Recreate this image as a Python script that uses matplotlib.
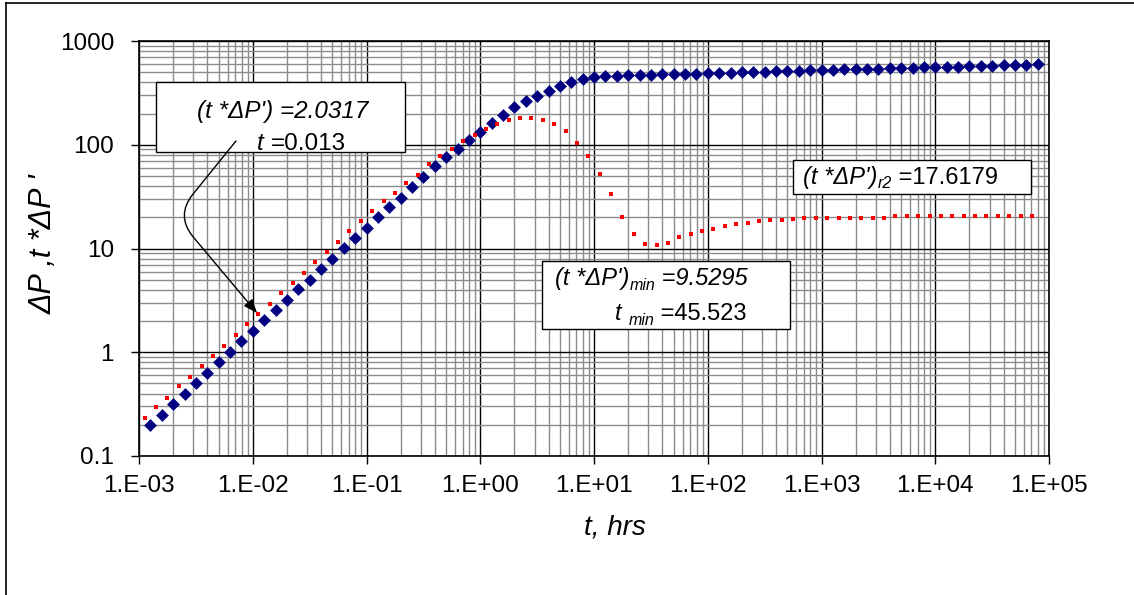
import matplotlib
matplotlib.use('Agg')
import matplotlib.pyplot as plt
from matplotlib.lines import Line2D
from matplotlib.patches import Rectangle, FancyArrowPatch
from matplotlib.ticker import FixedLocator, FixedFormatter, LogLocator, NullFormatter

W, H = 1134, 595

# pressure change (log10 of time in hrs -> value)
log_t_dp = [-2.9, -2.8, -2.7, -2.6, -2.5, -2.4, -2.3, -2.2, -2.1, -2.0,
            -1.9, -1.8, -1.7, -1.6, -1.5, -1.4, -1.3, -1.2, -1.1, -1.0,
            -0.9, -0.8, -0.7, -0.6, -0.5, -0.4, -0.3, -0.2, -0.1, 0.0,
            0.1, 0.2, 0.3, 0.4, 0.5, 0.6, 0.7, 0.8, 0.9, 1.0,
            1.1, 1.2, 1.3, 1.4, 1.5, 1.6, 1.7, 1.8, 1.9, 2.0,
            2.1, 2.2, 2.3, 2.4, 2.5, 2.6, 2.7, 2.8, 2.9, 3.0,
            3.1, 3.2, 3.3, 3.4, 3.5, 3.6, 3.7, 3.8, 3.9, 4.0,
            4.1, 4.2, 4.3, 4.4, 4.5, 4.6, 4.7, 4.8, 4.9]
dp = [0.20, 0.25, 0.32, 0.40, 0.50, 0.63, 0.80, 1.00, 1.28, 1.60,
      2.03, 2.55, 3.2, 4.05, 5.0, 6.4, 8.0, 10.1, 12.6, 15.8,
      20, 25, 31, 39, 48.5, 62, 76, 92, 112, 134,
      162, 193, 229, 265, 298, 333, 369, 407, 428, 454,
      461, 463, 466, 469, 472, 476, 479, 483, 486, 490,
      493, 497, 500, 504, 507, 511, 514, 518, 521, 525,
      528, 532, 535, 539, 542, 546, 549, 553, 556, 560,
      563, 567, 570, 574, 578, 582, 586, 590, 594]

# pressure derivative t*dP'
log_t_der = [-2.95, -2.85, -2.75, -2.65, -2.55, -2.45, -2.35, -2.25, -2.15, -2.05,
             -1.95, -1.85, -1.75, -1.65, -1.55, -1.45, -1.35, -1.25, -1.15, -1.05,
             -0.95, -0.85, -0.75, -0.65, -0.55, -0.45, -0.35, -0.25, -0.15, -0.05,
             0.05, 0.15, 0.25, 0.35, 0.45, 0.55, 0.65, 0.75, 0.85, 0.95,
             1.05, 1.15, 1.25, 1.35, 1.45, 1.55, 1.65, 1.75, 1.85, 1.95,
             2.05, 2.15, 2.25, 2.35, 2.45, 2.55, 2.65, 2.75, 2.85, 2.95,
             3.05, 3.15, 3.25, 3.35, 3.45, 3.55, 3.65, 3.75, 3.85, 3.95,
             4.05, 4.15, 4.25, 4.35, 4.45, 4.55, 4.65, 4.75, 4.85]
der = [0.23, 0.296, 0.366, 0.47, 0.58, 0.745, 0.92, 1.16, 1.48, 1.86,
       2.35, 2.94, 3.75, 4.6, 5.8, 7.45, 9.3, 11.6, 14.8, 18.3,
       22.8, 28.5, 34.5, 42.8, 51.5, 64.6, 77.2, 92, 109, 125,
       143, 158, 174, 182, 182, 174, 158, 135, 105, 78,
       52, 33.5, 20.3, 13.8, 11.1, 10.8, 11.4, 12.8, 13.8, 14.7,
       15.5, 16.3, 17.3, 17.8, 18.4, 18.8, 18.9, 19.2, 19.5, 19.8,
       19.8, 19.8, 19.8, 19.8, 19.8, 19.8, 20.4, 20.4, 20.4, 20.4,
       20.4, 20.4, 20.4, 20.4, 20.4, 20.4, 20.4, 20.4, 20.4]

x_ticks = [1e-3, 1e-2, 1e-1, 1e0, 1e1, 1e2, 1e3, 1e4, 1e5]
x_tick_labels = ['1.E-03', '1.E-02', '1.E-01', '1.E+00', '1.E+01',
                 '1.E+02', '1.E+03', '1.E+04', '1.E+05']
y_ticks = [0.1, 1, 10, 100, 1000]
y_tick_labels = ['0.1', '1', '10', '100', '1000']

plt.rcParams['font.family'] = ['Liberation Sans', 'DejaVu Sans']


def px(x, y):
    # picture pixels (origin top-left) -> figure fraction
    return x / W, 1 - y / H


fig = plt.figure(figsize=(W / 100, H / 100), dpi=100)
ax = fig.add_axes([139 / W, 1 - 456 / H, 910 / W, 415 / H])

t_dp = [10 ** v for v in log_t_dp]
t_der = [10 ** v for v in log_t_der]
ax.plot(t_dp, dp, ls='none', marker='D', ms=5.9, color='#000080',
        mec='#000080', mew=0.4, zorder=3, clip_on=False)
ax.plot(t_der, der, ls='none', marker='s', ms=2.5, mew=0, color='red',
        zorder=3)

ax.set_xscale('log')
ax.set_yscale('log')
ax.set_xlim(1e-3, 1e5)
ax.set_ylim(0.1, 1000)

ax.xaxis.set_major_locator(FixedLocator(x_ticks))
ax.xaxis.set_major_formatter(FixedFormatter(x_tick_labels))
ax.yaxis.set_major_locator(FixedLocator(y_ticks))
ax.yaxis.set_major_formatter(FixedFormatter(y_tick_labels))
for axis in (ax.xaxis, ax.yaxis):
    axis.set_minor_locator(LogLocator(base=10, subs=range(2, 10), numticks=60))
    axis.set_minor_formatter(NullFormatter())

ax.set_axisbelow(True)
ax.grid(True, which='minor', color='#8c8c8c', lw=1.0)
ax.grid(True, which='major', color='black', lw=1.0)
ax.tick_params(which='major', direction='out', length=6, width=1,
               labelsize=17.5, color='black')
ax.tick_params(axis='x', which='major', pad=8)
ax.tick_params(axis='y', which='major', pad=12)
ax.tick_params(which='minor', length=0)
for sp in ax.spines.values():
    sp.set_linewidth(1.2)
    sp.set_color('black')

ax.set_xlabel('t, hrs', fontsize=20, style='italic')
ax.xaxis.set_label_coords(0.523, -0.14)
ax.set_ylabel("ΔP ,t *ΔP '", fontsize=22, style='italic')
ax.yaxis.set_label_coords(-0.088, 0.51)


def box(x0, y0, x1, y1):
    l, b = px(x0, y1)
    ax.add_patch(Rectangle((l, b), (x1 - x0) / W, (y1 - y0) / H,
                           transform=fig.transFigure, fc='white', ec='black',
                           lw=1.0, zorder=5, clip_on=False))


def write(pieces, x, y):
    prev = None
    for text, size, style, dy in pieces:
        if prev is None:
            fx, fy = px(x, y + dy)
            prev = ax.text(fx, fy, text, transform=fig.transFigure,
                           fontsize=size, style=style, ha='left',
                           va='baseline', zorder=6)
        else:
            prev = ax.annotate(text, xy=(1, 1 - (y + dy) / H),
                               xycoords=(prev, 'figure fraction'),
                               fontsize=size, style=style, ha='left',
                               va='baseline', zorder=6, annotation_clip=False)
    return prev


# annotation at t = 0.013
box(156, 82, 405, 152)
write([("(t *ΔP') =2.0317", 17.5, 'italic', 0)], 197, 118)
write([("t ", 17.5, 'italic', 0), ("=0.013", 17.5, 'normal', 0)], 257, 150)
arrow = FancyArrowPatch(px(236, 141), px(257, 313), transform=fig.transFigure,
                        connectionstyle='angle,angleA=51,angleB=-50,rad=28',
                        arrowstyle='-|>,head_length=0.55,head_width=0.22',
                        mutation_scale=15, color='black', lw=1.0,
                        shrinkA=0, shrinkB=0, zorder=6)
fig.add_artist(arrow)

# radial flow derivative
box(793, 160, 1031, 194)
write([("(t *ΔP')", 17, 'italic', 0), ("r2", 11.5, 'italic', 4),
       (" =17.6179", 17, 'normal', 0)], 803, 184)

# minimum derivative
box(542, 261, 790, 329)
write([("(t *ΔP')", 17, 'italic', 0), ("min", 11.5, 'italic', 5),
       (" =9.5295", 17, 'italic', 0)], 555, 285)
write([("t ", 17, 'italic', 0), ("min", 11.5, 'italic', 5),
       (" =45.523", 17, 'normal', 0)], 615, 320)

# chart frame (only left and top edges are inside the picture)
fig.add_artist(Line2D([6 / W, 6 / W], [0, 1 - 3 / H], transform=fig.transFigure,
                      color='black', lw=1.2))
fig.add_artist(Line2D([6 / W, 1], [1 - 3 / H, 1 - 3 / H], transform=fig.transFigure,
                      color='black', lw=1.2))

fig.savefig('out.png', dpi=100)
